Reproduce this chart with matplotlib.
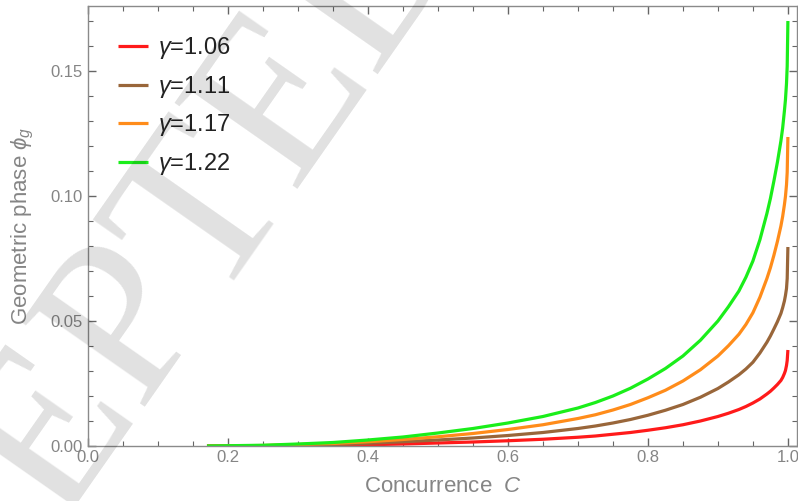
import matplotlib
matplotlib.use("Agg")
import matplotlib.pyplot as plt
from matplotlib.ticker import MultipleLocator

plt.rcParams['font.family'] = ['Liberation Sans', 'DejaVu Sans']
plt.rcParams['mathtext.fontset'] = 'custom'
plt.rcParams['mathtext.it'] = 'Liberation Sans:italic'
plt.rcParams['mathtext.rm'] = 'Liberation Sans'

# concurrence values where the curves were read
conc = [0.17, 0.25, 0.3, 0.35, 0.4, 0.45, 0.5, 0.55, 0.6, 0.65, 0.7, 0.725,
        0.75, 0.775, 0.8, 0.825, 0.85, 0.875, 0.9, 0.915, 0.93, 0.94, 0.95,
        0.96, 0.97, 0.975, 0.98, 0.985, 0.99, 0.9925, 0.995, 0.9965, 0.998,
        0.999, 1.0]

phase_106 = [0.0, 0.0001, 0.0002, 0.0003, 0.0005, 0.0008, 0.0012, 0.0016,
             0.0021, 0.0027, 0.0035, 0.0040, 0.0047, 0.0054, 0.0063, 0.0073,
             0.0085, 0.0100, 0.0118, 0.0131, 0.0146, 0.0158, 0.0172,
             0.0188, 0.0208, 0.0219, 0.0232, 0.0246, 0.0262,
             0.0274, 0.0290, 0.0302, 0.0322, 0.0342, 0.0384]
phase_111 = [0.0, 0.0001, 0.0004, 0.0006, 0.0011, 0.0017, 0.0024, 0.0032,
             0.0042, 0.0054, 0.0070, 0.0080, 0.0092, 0.0106, 0.0123, 0.0143,
             0.0166, 0.0195, 0.0230, 0.0256, 0.0285, 0.0308, 0.0335,
             0.0372, 0.0415, 0.0440, 0.0468, 0.0497, 0.0530,
             0.0553, 0.0580, 0.0602, 0.0630, 0.0670, 0.0796]
phase_117 = [0.0, 0.0002, 0.0006, 0.0010, 0.0017, 0.0026, 0.0037, 0.0050,
             0.0066, 0.0085, 0.0110, 0.0125, 0.0144, 0.0166, 0.0193, 0.0223,
             0.0260, 0.0305, 0.0360, 0.0401, 0.0447, 0.0486, 0.0533,
             0.0595, 0.0670, 0.0713, 0.0763, 0.0818, 0.0880,
             0.0918, 0.0965, 0.0998, 0.1045, 0.1095, 0.1236]
phase_122 = [0.0, 0.0003, 0.0008, 0.0014, 0.0024, 0.0036, 0.0052, 0.0070,
             0.0092, 0.0118, 0.0152, 0.0174, 0.0200, 0.0231, 0.0268, 0.0310,
             0.0360, 0.0423, 0.0500, 0.0557, 0.0620, 0.0675, 0.0740,
             0.0825, 0.0930, 0.0990, 0.1060, 0.1135, 0.1220,
             0.1272, 0.1340, 0.1385, 0.1450, 0.1520, 0.1700]

labels = ["1.06", "1.11", "1.17", "1.22"]
colors = ["#ff1a1a", "#99663a", "#ff8c1a", "#1aee1a"]
series = [phase_106, phase_111, phase_117, phase_122]

fig = plt.figure(figsize=(7.98, 5.01), dpi=100)
ax = fig.add_axes([88/798, 1-446/501, 709/798, 440/501])

for ys, lab, col in zip(series, labels, colors):
    ax.plot(conc, ys, color=col, lw=2.3, label=r"$\gamma$=" + lab,
            solid_capstyle='butt', solid_joinstyle='round')

ax.set_xlim(0, 1.013)
ax.set_ylim(0, 0.176)
ax.xaxis.set_minor_locator(MultipleLocator(0.05))
ax.yaxis.set_minor_locator(MultipleLocator(0.01))
ax.set_xticks([0, 0.2, 0.4, 0.6, 0.8, 1.0])
ax.set_xticklabels(["0.0", "0.2", "0.4", "0.6", "0.8", "1.0"])
ax.set_yticks([0, 0.05, 0.1, 0.15])
ax.set_yticklabels(["0.00", "0.05", "0.10", "0.15"])

gray = "#858585"
for s in ax.spines.values():
    s.set_color("#8a8a8a")
    s.set_linewidth(1.0)
ax.tick_params(which='both', direction='in', top=True, right=True,
               colors="#666666", labelcolor=gray, labelsize=12)
ax.tick_params(which='major', length=6, width=1)
ax.tick_params(which='minor', length=3.5, width=0.8)
ax.tick_params(axis='x', pad=3)
ax.tick_params(axis='y', pad=4)

ax.set_xlabel(r"Concurrence  $C$", fontsize=16, color=gray, labelpad=8)
ax.set_ylabel(r"Geometric phase $\phi_g$", fontsize=16, color=gray, labelpad=10)

leg = ax.legend(loc='upper left', bbox_to_anchor=(0.035, 0.944), frameon=False,
                fontsize=17, handlelength=1.31, handletextpad=0.42,
                labelspacing=0.53, borderpad=0.2, borderaxespad=0)
for t in leg.get_texts():
    t.set_color("#222222")

fig.text(85/798, 1-394/501, "ACCEPTED", rotation=55, rotation_mode='anchor',
         ha='center', va='center', fontsize=165, family='Liberation Serif',
         color='black', alpha=0.12, zorder=10)

fig.savefig("out.png", dpi=100)
